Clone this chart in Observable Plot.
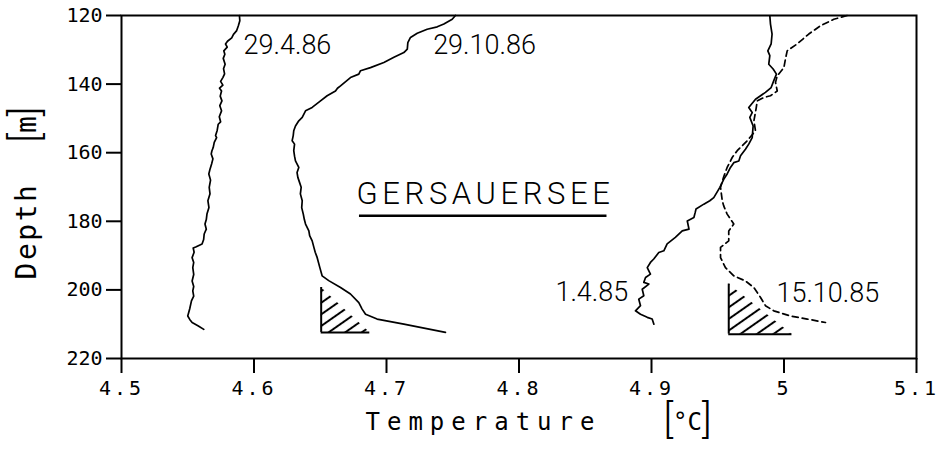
<!DOCTYPE html>
<html>
<head>
<meta charset="utf-8">
<script src="https://cdn.jsdelivr.net/npm/d3@7"></script>
<script src="https://cdn.jsdelivr.net/npm/@observablehq/plot@0.6"></script>
<style>
  body { margin: 0; background: #fff; }
  #chart svg { display: block; }
</style>
</head>
<body>
<div id="chart"></div>
<script>
// ---------- Data (temperature in °C, depth in m) ----------
const depth_29_4_86 = [120,121.5,123,124.5,125.5,126.5,127.5,128.3,129.2,130.3,131.3,132.5,134.2,135.5,137,138.1,139.2,140.3,141.2,142,143.5,144.9,146.3,147.8,149.5,151,151.7,153.5,155,155.6,157,158.5,159.5,160.4,161.8,163.3,164.8,166.2,168,170.1,172,174,176,177.9,179.5,180.8,182.3,183.7,185.3,186.6,187.5,187.8,189,190.6,192,193.5,195.5,197.4,199,200.3,201.8,203.2,205.5,207.6,208.6,209.5,210.5,211.5];
const temp_29_4_86  = [4.589,4.5893,4.5882,4.5868,4.5845,4.5832,4.58,4.5785,4.5798,4.5772,4.578,4.5768,4.5782,4.577,4.5778,4.5765,4.5748,4.5765,4.574,4.5755,4.5745,4.5758,4.5742,4.5755,4.5738,4.5748,4.573,4.5722,4.571,4.5718,4.57,4.5692,4.5682,4.5677,4.569,4.568,4.5668,4.5659,4.5672,4.5662,4.5668,4.5652,4.566,4.5645,4.564,4.563,4.564,4.5624,4.562,4.5608,4.556,4.5541,4.5548,4.5533,4.5545,4.5538,4.5545,4.5533,4.5545,4.5538,4.5545,4.5528,4.5515,4.55,4.5515,4.5533,4.558,4.5621];

const depth_29_10_86 = [120,121.1,122.5,123.3,124,125.2,126.4,127.9,129.8,130.8,132.2,133.7,135.2,136.1,137.1,138.1,140.5,141.2,142,143.4,144.9,146.8,147.8,149.7,150.7,152.2,153.6,155,156.5,157.5,159.4,161,162.4,164.3,165.8,167.2,168.8,170.1,172,174,176,177.9,179.5,180.8,182.8,184.2,185.7,187.6,189,190.6,193.5,195.9,197.3,199.3,201.2,203.7,205.6,207.1,208.5,210,212.4];
const temp_29_10_86  = [4.752,4.7496,4.7433,4.7383,4.7307,4.7232,4.7181,4.7161,4.7157,4.7131,4.7056,4.698,4.6879,4.6804,4.6791,4.6728,4.6653,4.663,4.6615,4.6552,4.6502,4.6439,4.6389,4.6364,4.6338,4.6313,4.63,4.6296,4.6288,4.6306,4.63,4.6306,4.6313,4.6338,4.6325,4.6331,4.6345,4.6356,4.635,4.6364,4.636,4.6372,4.638,4.6389,4.6414,4.642,4.6439,4.6452,4.6462,4.6477,4.6497,4.6514,4.6564,4.6653,4.6728,4.6791,4.6816,4.6842,4.6929,4.7131,4.7445];

const depth_1_4_85 = [120.1,122.5,125.4,128.3,130.3,131.7,134.2,135.6,137.1,139,141,142.4,143.4,144.4,146.8,148.3,149.7,152.2,155.6,157.5,159,160.9,162.4,162.9,164.3,166.2,167.7,170.1,173.1,174,175,176.4,177.4,178.9,179.9,182.3,182.8,184.7,186.6,188.6,189.1,191,192,193.5,195.4,196.4,197.8,198.3,199.8,201.7,202.7,204.6,206.1,207.1,208,208.5,210];
const temp_1_4_85  = [4.9893,4.9898,4.991,4.9903,4.9878,4.9893,4.9885,4.9918,4.9943,4.9923,4.9903,4.986,4.9823,4.9785,4.9734,4.976,4.9742,4.9767,4.976,4.9734,4.9709,4.9672,4.9659,4.9621,4.9596,4.9571,4.9546,4.9516,4.947,4.944,4.9395,4.9336,4.933,4.932,4.927,4.9283,4.9232,4.918,4.9118,4.9093,4.9055,4.9017,4.8992,4.8968,4.8992,4.8955,4.8942,4.898,4.893,4.8942,4.8904,4.8917,4.8879,4.8917,4.8968,4.9005,4.9018];

const depth_15_10_85 = [120,121.1,123,125.4,128.3,130.3,132.7,135.2,137.6,139.5,142,143.4,143.9,144.9,147,150.7,153.6,156.5,159.4,161.4,164.3,167,170.1,174,175.5,177.9,180.8,182.8,185.7,187.6,190.6,193.5,195.9,197.4,199.3,202.2,204.6,206.1,207.6,208.5,209.5];
const temp_15_10_85  = [5.0477,5.0376,5.0275,5.0187,5.0099,5.0024,5.0011,4.9999,4.9949,4.9936,4.9949,4.9898,4.9848,4.9798,4.979,4.9773,4.9785,4.9723,4.9647,4.9609,4.9571,4.9545,4.9521,4.9534,4.9545,4.9571,4.9621,4.9583,4.9583,4.9521,4.9521,4.9558,4.9621,4.9709,4.9772,4.9823,4.986,4.9923,5.0049,5.0175,5.0313];

// hatched bottom-layer triangles: [left temp, right temp, top depth, bottom depth]
const hatch_29_10_86 = [4.6507, 4.6874, 199.3, 212.4];
const hatch_15_10_85 = [4.9583, 5.006, 198.3, 212.9];

// curve labels: text, temperature, depth
const labelTexts = ["29.4.86", "29.10.86", "1.4.85", "15.10.85"];
const labelTemps = [4.5921, 4.7352, 4.8275, 4.9943];
const labelDepths = [128.8, 128.8, 200.8, 201.1];

const lakeName = "GERSAUERSEE";
const lakeTemp = 4.6774, lakeDepth = 172.1;
const underline = [4.6796, 4.8664, 178.4];

const xTicks = [4.5, 4.6, 4.7, 4.8, 4.9, 5, 5.1];
const yTicks = [120, 140, 160, 180, 200, 220];
const xTitle = "Temperature", xUnit = "[°C]";
const yTitle = "Depth [m]";

// ---------- Build ----------
const rows = (t, d) => t.map((v, i) => ({t: v, d: d[i]}));
const p1 = rows(temp_29_4_86, depth_29_4_86);
const p2 = rows(temp_29_10_86, depth_29_10_86);
const p3 = rows(temp_1_4_85, depth_1_4_85);
const p4 = rows(temp_15_10_85, depth_15_10_85);

// right triangle: vertical edge at t0 from dTop to dBot, bottom edge to t1
const tri = h => [{d: h[2], x1: h[0], x2: h[0]}, {d: h[3], x1: h[0], x2: h[1]}];

const labels = labelTexts.map((s, i) => ({s, t: labelTemps[i], d: labelDepths[i]}));

const defs = () => {
  const g = d3.create("svg:defs");
  const p = g.append("pattern").attr("id", "hatch").attr("patternUnits", "userSpaceOnUse")
    .attr("width", 9.5).attr("height", 9.5).attr("patternTransform", "rotate(55)");
  p.append("line").attr("x1", 4.75).attr("y1", -1).attr("x2", 4.75).attr("y2", 10.5)
    .attr("stroke", "black").attr("stroke-width", 2);
  return g.node();
};

const chart = Plot.plot({
  width: 945,
  height: 453,
  marginLeft: 121,
  marginRight: 29,
  marginTop: 15,
  marginBottom: 95,
  style: {fontFamily: "DejaVu Sans Mono", color: "black", background: "white", overflow: "visible"},
  x: {domain: [4.5, 5.1]},
  y: {domain: [120, 220], reverse: true},
  marks: [
    defs,
    Plot.areaX(tri(hatch_29_10_86), {y: "d", x1: "x1", x2: "x2", fill: "url(#hatch)"}),
    Plot.areaX(tri(hatch_15_10_85), {y: "d", x1: "x1", x2: "x2", fill: "url(#hatch)"}),
    Plot.ruleX([hatch_29_10_86], {x: h => h[0], y1: h => h[2], y2: h => h[3], strokeWidth: 2}),
    Plot.ruleY([hatch_29_10_86], {y: h => h[3], x1: h => h[0], x2: h => h[1], strokeWidth: 2}),
    Plot.ruleX([hatch_15_10_85], {x: h => h[0], y1: h => h[2], y2: h => h[3], strokeWidth: 2}),
    Plot.ruleY([hatch_15_10_85], {y: h => h[3], x1: h => h[0], x2: h => h[1], strokeWidth: 2}),
    Plot.line(p1, {x: "t", y: "d", strokeWidth: 1.7}),
    Plot.line(p2, {x: "t", y: "d", strokeWidth: 1.7}),
    Plot.line(p3, {x: "t", y: "d", strokeWidth: 1.7}),
    Plot.line(p4, {x: "t", y: "d", strokeWidth: 1.7, strokeDasharray: "6,4"}),
    Plot.frame({strokeWidth: 2}),
    Plot.axisX(xTicks, {tickSize: 15, tickPadding: 7, strokeWidth: 2, fontSize: 20, label: null, tickFormat: d => String(d)}),
    Plot.axisY(yTicks, {tickSize: 15, tickPadding: 4, strokeWidth: 2, fontSize: 20, label: null}),
    Plot.text(labels, {x: "t", y: "d", text: "s", textAnchor: "start", fontSize: 27, fontFamily: "Roboto", fontWeight: 300}),
    Plot.text([lakeName], {x: () => lakeTemp, y: () => lakeDepth, textAnchor: "start", fontSize: 31, fontFamily: "Roboto", fontWeight: 300}),
    Plot.ruleY([underline], {y: u => u[2], x1: u => u[0], x2: u => u[1], strokeWidth: 2.5}),
    Plot.text([xTitle], {frameAnchor: "bottom-left", dx: 244, dy: 71, textAnchor: "start", fontSize: 24}),
    Plot.text([xUnit], {frameAnchor: "bottom-left", dx: 542, dy: 71, textAnchor: "start", fontSize: 24}),
    Plot.text([yTitle], {frameAnchor: "left", dx: -94, dy: 6, rotate: -90, textAnchor: "middle", fontSize: 28})
  ]
});
document.getElementById("chart").appendChild(chart);

// typographic tweaks: letter spacing and tall, thin brackets
const svg = d3.select(chart);
function tallBrackets(node, gap, spacing) {
  const s = node.textContent;
  const i = s.indexOf("[");
  const head = s.slice(0, i).trim(), inner = s.slice(i + 1, s.indexOf("]"));
  node.textContent = "";
  const sel = d3.select(node);
  if (head) sel.append("tspan").text(head).style("letter-spacing", spacing + "px");
  const big = t => t.attr("font-family", "Roboto").attr("font-weight", 300).attr("font-size", "40px");
  big(sel.append("tspan").text("[").attr("dx", gap).attr("dy", 3));
  sel.append("tspan").text(inner).attr("dy", -3);
  big(sel.append("tspan").text("]").attr("dy", 3));
}
svg.selectAll("text").each(function() {
  const s = this.textContent;
  if (s === lakeName) this.style.letterSpacing = "4.6px";
  if (s === xTitle) this.style.letterSpacing = "7px";
  if (s === xUnit) tallBrackets(this, 0, 0);
  if (s === yTitle) tallBrackets(this, 40, 2.5);
});
svg.selectAll('g[aria-label="x-axis tick label"] text').style("letter-spacing", "3px");
</script>
</body>
</html>
